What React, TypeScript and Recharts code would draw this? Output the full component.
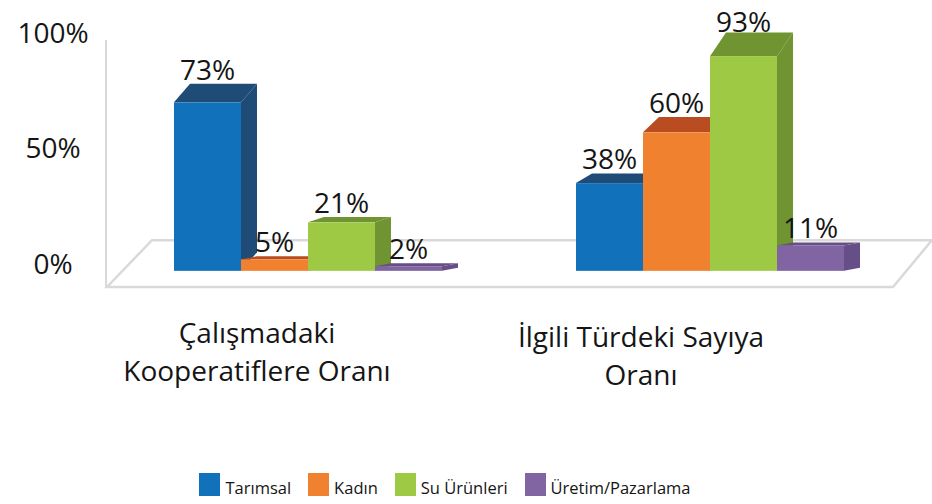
import React from 'react'
import { BarChart, Bar, XAxis, YAxis, Legend, LabelList, ReferenceArea } from 'recharts'

const categories = ['Çalışmadaki Kooperatiflere Oranı', 'İlgili Türdeki Sayıya Oranı']
const categoryLines = [
  ['Çalışmadaki', 'Kooperatiflere Oranı'],
  ['İlgili Türdeki Sayıya', 'Oranı'],
]
const seriesNames = ['Tarımsal', 'Kadın', 'Su Ürünleri', 'Üretim/Pazarlama']
const tarimsal = [73, 38]
const kadin = [5, 60]
const suUrunleri = [21, 93]
const uretimPazarlama = [2, 11]
const yTicks = [0, 50, 100]

const keys = ['tarimsal', 'kadin', 'suUrunleri', 'uretimPazarlama']
const FRONT = ['#1171BA', '#F0812F', '#9DC944', '#8164A2']
const SIDE = ['#1F4B77', '#B94C20', '#6F9431', '#664E86']
const FONT = '"Open Sans", "Noto Sans", sans-serif'
const INK = '#151515'

const data = categories.map((name, i) => ({
  name,
  tarimsal: tarimsal[i],
  kadin: kadin[i],
  suUrunleri: suUrunleri[i],
  uretimPazarlama: uretimPazarlama[i],
}))

// fake 3d depth: taller boxes show more of their top
const depthX = 16
const depthY = (h: number) => Math.max(3, h * 0.11)

function Box3D(props: any) {
  const { x, y, width, height, fill, side } = props
  if (!width || height == null) return null
  const dx = depthX
  const dy = depthY(height)
  const r = x + width
  const b = y + height
  return (
    <g>
      <polygon points={`${r},${y} ${r + dx},${y - dy} ${r + dx},${b - dy} ${r},${b}`} fill={side} />
      <polygon points={`${x},${y} ${x + dx},${y - dy} ${r + dx},${y - dy} ${r},${y}`} fill={side} />
      <rect x={x} y={y} width={width} height={height} fill={fill} />
    </g>
  )
}

function ValueLabel(props: any) {
  const vb = props.viewBox ?? props
  const { x, y, width, height } = vb
  if (x == null) return null
  return (
    <text
      x={x + width / 2}
      y={Math.max(y - depthY(height) - 4, 32)}
      textAnchor="middle"
      fontSize={28}
      fill={INK}
      fontFamily={FONT}
    >
      {props.value}%
    </text>
  )
}

function Floor(props: any) {
  const { x, y, width, height } = props
  const b = y + height
  return (
    <polygon
      points={`${x + 1},${b} ${x + 46},${y} ${x + width + 22},${y} ${x + width - 17},${b}`}
      fill="none"
      stroke="#D9D9D9"
      strokeWidth={2.5}
    />
  )
}

const tickShift = [-50, -68]
const tickDrop = [56, 60]

function CategoryTick(props: any) {
  const { x, y, payload } = props
  const i = categories.indexOf(payload.value)
  const lines = categoryLines[i] ?? [payload.value]
  const cx = x + (tickShift[i] ?? 0)
  return (
    <text x={cx} y={y + (tickDrop[i] ?? 56)} textAnchor="middle" fontSize={28} fill={INK} fontFamily={FONT}>
      {lines.map((l, k) => (
        <tspan key={l} x={cx} dy={k === 0 ? 0 : 38}>
          {l}
        </tspan>
      ))}
    </text>
  )
}

function PercentTick(props: any) {
  const { x, y, payload } = props
  return (
    <text x={x - 53} y={y + 3} textAnchor="middle" fontSize={28} fill={INK} fontFamily={FONT}>
      {payload.value}%
    </text>
  )
}

function LegendBox() {
  return (
    <div
      style={{
        display: 'flex',
        justifyContent: 'center',
        alignItems: 'flex-end',
        height: 30,
        boxSizing: 'border-box',
        paddingBottom: 8,
        paddingRight: 20,
        fontFamily: FONT,
        fontSize: 16.5,
        color: INK,
      }}
    >
      {seriesNames.map((n, i) => (
        <div key={n} style={{ display: 'flex', alignItems: 'flex-end', marginRight: i < 3 ? 17 : 0 }}>
          <span style={{ display: 'inline-block', width: 21, height: 23, background: FRONT[i], marginRight: 5 }} />
          <span style={{ lineHeight: '16px', whiteSpace: 'nowrap' }}>{n}</span>
        </div>
      ))}
    </div>
  )
}

export default function App() {
  return (
    <div style={{ position: 'absolute', left: 0, top: 0, background: '#fff' }}>
      <BarChart
        width={932}
        height={504}
        data={data}
        margin={{ top: 40, right: 22, bottom: 0, left: 0 }}
        barCategoryGap={68}
        barGap={0}
        style={{ fontFamily: FONT }}
      >
        <ReferenceArea y1={-7} y2={13.3} shape={<Floor />} ifOverflow="visible" />
        <XAxis
          dataKey="name"
          height={187}
          axisLine={false}
          tickLine={false}
          tickSize={0}
          tickMargin={0}
          interval={0}
          tick={<CategoryTick />}
        />
        <YAxis
          width={106}
          domain={[-7, 100]}
          ticks={yTicks}
          axisLine={{ stroke: '#D9D9D9', strokeWidth: 2 }}
          tickLine={false}
          tickSize={0}
          tickMargin={0}
          tick={<PercentTick />}
        />
        {keys.map((k, i) => (
          <Bar
            key={k}
            dataKey={k}
            name={seriesNames[i]}
            fill={FRONT[i]}
            isAnimationActive={false}
            shape={(p: any) => <Box3D {...p} side={SIDE[i]} />}
          >
            <LabelList dataKey={k} content={<ValueLabel />} />
          </Bar>
        ))}
        <Legend verticalAlign="bottom" height={30} content={<LegendBox />} />
      </BarChart>
    </div>
  )
}
